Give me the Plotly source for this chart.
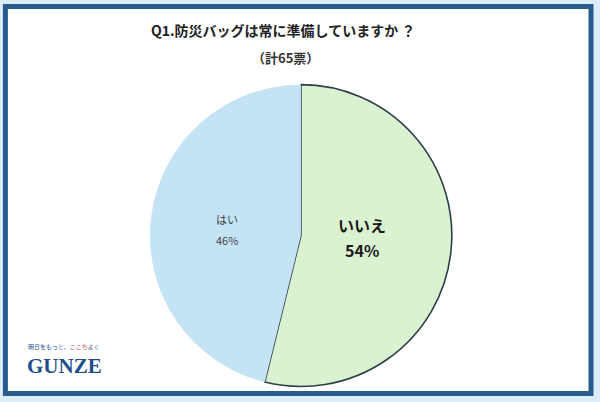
import plotly.graph_objects as go

labels = ["いいえ", "はい"]
votes = [35, 30]
colors = ["#DAF2D0", "#C4E3F5"]
title_text = "Q1.防災バッグは常に準備していますか ？"
subtitle_text = "（計65票）"

total = sum(votes)
pct = [round(v / total * 100) for v in votes]

fig = go.Figure()
fig.add_trace(go.Pie(
    labels=labels, values=votes, sort=False, direction="clockwise", rotation=0,
    marker=dict(colors=colors, line=dict(color=["#2E3F4A", "rgba(0,0,0,0)"], width=[1.6, 0])),
    textinfo="none", hoverinfo="label+percent", showlegend=False,
    domain=dict(x=[0.25, 0.753], y=[0.037, 0.791]),
))

font = "Noto Sans CJK JP, Noto Sans, sans-serif"
ann = [
    dict(x=0.472, y=0.925, text="<b>" + title_text + "</b>", font=dict(size=14, color="#222")),
    dict(x=0.475, y=0.858, text="<b>" + subtitle_text + "</b>", font=dict(size=13, color="#333")),
    dict(x=0.603, y=0.44, text="<b>%s</b>" % labels[0], font=dict(size=16, color="#1a1a1a")),
    dict(x=0.603, y=0.378, text="<b>%d%%</b>" % pct[0], font=dict(size=16, color="#1a1a1a")),
    dict(x=0.378, y=0.455, text=labels[1], font=dict(size=11, color="#444")),
    dict(x=0.378, y=0.402, text="%d%%" % pct[1], font=dict(size=11, color="#444")),
    dict(x=0.107, y=0.090, text="<b>GUNZE</b>", font=dict(size=21, color="#1F4E8C", family="Liberation Serif, serif")),
    dict(x=0.107, y=0.138, text="明日をもっと、<span style='color:#E0504A'>ここち</span>よく", font=dict(size=6, color="#1F4E8C")),
]
for a in ann:
    a.update(xref="paper", yref="paper", showarrow=False, xanchor="center", yanchor="middle")
    a["font"].setdefault("family", font)

fig.update_layout(
    width=600, height=402, margin=dict(l=0, r=0, t=0, b=0),
    paper_bgcolor="#DCEEF8", plot_bgcolor="white",
    annotations=ann,
    shapes=[
        dict(type="rect", xref="paper", yref="paper", x0=0.009, y0=0.021, x1=0.985, y1=0.984,
             line=dict(color="#2A5B8F", width=5), fillcolor="white", layer="below"),
    ],
)
fig.write_html("out.html", config={"displayModeBar": False},
               post_script="document.body.style.margin='0';document.body.style.overflow='hidden';")
